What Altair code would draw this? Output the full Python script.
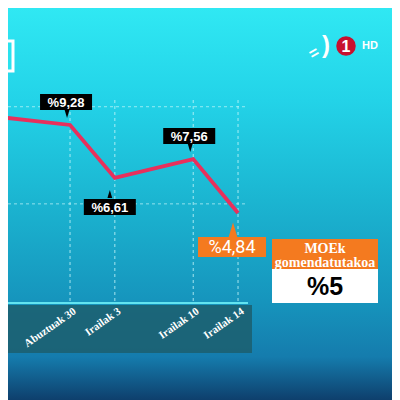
import altair as alt
import pandas as pd

# ---- data ----
days = [22, 30, 34, 41, 45]              # day index (Aug 30 = 30, Sep 3 = 34 ...)
values = [9.79, 9.28, 6.61, 7.56, 4.84]
labels = ["", "%9,28", "%6,61", "%7,56", "%4,84"]
label_pos = ["none", "above", "below", "above", "orange"]

tick_days = [30, 34, 41, 45]
tick_labels = ["Abuztuak 30", "Irailak 3", "Irailak 10", "Irailak 14"]

grid_values = [10.2, 5.3]

moe_title = ["MOEk", "gomendatutakoa"]
moe_value = "%5"

W, H, PB = 384, 295, 97

df = pd.DataFrame({"day": days, "value": values, "label": labels, "pos": label_pos})
ticks_df = pd.DataFrame({"day": tick_days, "label": tick_labels})
grid_df = pd.DataFrame({"g": grid_values})
one = pd.DataFrame({"a": [0]})

label_map = "{" + ",".join(f"'{d}':'{l}'" for d, l in zip(tick_days, tick_labels)) + "}"

xscale = alt.Scale(domain=[24.46, 58.75], nice=False, zero=False)
yscale = alt.Scale(domain=[0.30, 15.18], nice=False, zero=False)

x_enc = alt.X(
    "day:Q",
    scale=xscale,
    axis=alt.Axis(
        values=tick_days,
        labelExpr=f"{label_map}[datum.value + '']",
        title=None,
        domain=False,
        ticks=False,
        tickSize=0,
        grid=False,
        labelAngle=325,
        labelAlign="right",
        labelBaseline="top",
        labelPadding=2,
        labelOffset=1,
        labelColor="white",
        labelFont="Liberation Serif",
        labelFontWeight="bold",
        labelFontSize=11,
        labelOverlap=False,
        labelBound=False,
        labelFlush=False,
        zindex=2,
    ),
)
y_enc = alt.Y("value:Q", scale=yscale, axis=None)

bg = alt.Chart(one).mark_rect(
    color=alt.Gradient(
        gradient="linear",
        stops=[
            alt.GradientStop(offset=0, color="#30e8f3"),
            alt.GradientStop(offset=0.235, color="#23d3e8"),
            alt.GradientStop(offset=0.49, color="#1bb5d1"),
            alt.GradientStop(offset=0.745, color="#1695bd"),
            alt.GradientStop(offset=0.89, color="#157cad"),
            alt.GradientStop(offset=1, color="#0e3f6c"),
        ],
        x1=0, x2=0, y1=0, y2=1,
    )
).encode(x=alt.value(0), x2=alt.value(W), y=alt.value(0), y2=alt.value(H + PB))

topleft_box = alt.Chart(one).mark_rect(
    fill="#2ae2ee", stroke="white", strokeWidth=3
).encode(x=alt.value(-30), x2=alt.value(5), y=alt.value(33), y2=alt.value(63))

band = alt.Chart(one).mark_rect(color="#1d6070", opacity=0.88).encode(
    x=alt.value(0), x2=alt.value(244), y=alt.value(297), y2=alt.value(345)
)

hgrid = alt.Chart(grid_df).mark_rule(
    color="#c8f6fa", opacity=0.7, strokeDash=[3, 3], strokeWidth=1
).encode(y=alt.Y("g:Q", scale=yscale, axis=None), x=alt.value(0), x2=alt.value(237))

vgrid = alt.Chart(ticks_df).mark_rule(
    color="#c8f6fa", opacity=0.8, strokeDash=[3, 3], strokeWidth=1
).encode(x=x_enc, y=alt.value(92), y2=alt.value(H))

baseline = alt.Chart(one).mark_rule(color="#62e4f0", strokeWidth=2).encode(
    x=alt.value(0), x2=alt.value(240), y=alt.value(H)
)

line = alt.Chart(df).mark_line(color="#e8305c", strokeWidth=3.8).encode(x=x_enc, y=y_enc)

down_tri = "M-0.6,-1L0.6,-1L0,1Z"
up_tri = "M0,-1L0.6,1L-0.6,1Z"


def callout(pos, dx, dy, w, h, tri_shape, tri_dx, tri_dy, tri_size, color, font, size, weight):
    base = alt.Chart(df).transform_filter(alt.datum.pos == pos)
    box = base.mark_rect(width=w, height=h, color=color, xOffset=dx, yOffset=dy).encode(x=x_enc, y=y_enc)
    tri = base.mark_point(
        shape=tri_shape, filled=True, size=tri_size, color=color, opacity=1, strokeWidth=0,
        xOffset=tri_dx, yOffset=tri_dy,
    ).encode(x=x_enc, y=y_enc)
    txt = base.mark_text(
        color="white", font=font, fontSize=size, fontWeight=weight, align="center",
        baseline="middle", xOffset=dx, yOffset=dy + 1,
    ).encode(x=x_enc, y=y_enc, text="label:N")
    return [box, tri, txt]


layers_above = callout("above", -4, -23, 52, 16, down_tri, -3, -11, 64, "black", "Liberation Sans", 13, "bold")
layers_below = callout("below", -5, 29, 52, 16, up_tri, -5, 16, 64, "black", "Liberation Sans", 13, "bold")
layers_orange = callout("orange", -6, 34, 68, 20, up_tri, -5, 17, 225, "#f47a1f", "Roboto", 18, "normal")

moe_head = alt.Chart(one).mark_rect(color="#f47a1f").encode(
    x=alt.value(264), x2=alt.value(370), y=alt.value(231), y2=alt.value(261)
)
moe_body = alt.Chart(one).mark_rect(color="white").encode(
    x=alt.value(264), x2=alt.value(370), y=alt.value(261), y2=alt.value(295)
)
moe_t1 = alt.Chart(one).mark_text(
    text=moe_title[0], color="white", font="Liberation Serif", fontWeight="bold", fontSize=14,
    align="center", baseline="middle",
).encode(x=alt.value(317), y=alt.value(241))
moe_t2 = alt.Chart(one).mark_text(
    text=moe_title[1], color="white", font="Liberation Serif", fontWeight="bold", fontSize=14,
    align="center", baseline="middle",
).encode(x=alt.value(317), y=alt.value(255))
moe_v = alt.Chart(one).mark_text(
    text=moe_value, color="black", font="Liberation Sans", fontWeight="bold", fontSize=25,
    align="center", baseline="middle",
).encode(x=alt.value(317), y=alt.value(279))

# channel logo
logo_circle = alt.Chart(one).mark_point(
    shape="circle", filled=True, size=380, color="#c8102e", opacity=1, strokeWidth=0
).encode(x=alt.value(338), y=alt.value(38))
logo_1 = alt.Chart(one).mark_text(
    text="1", color="white", font="Liberation Sans", fontWeight="bold", fontSize=16,
    align="center", baseline="middle",
).encode(x=alt.value(338), y=alt.value(39))
logo_hd = alt.Chart(one).mark_text(
    text="HD", color="white", font="Liberation Sans", fontWeight="bold", fontSize=11,
    align="left", baseline="middle",
).encode(x=alt.value(354), y=alt.value(38))
logo_arc = alt.Chart(one).mark_text(
    text=")", color="white", font="Liberation Sans", fontWeight="bold", fontSize=24,
    align="center", baseline="middle",
).encode(x=alt.value(318), y=alt.value(38))
logo_dash = alt.Chart(one).mark_text(
    text="=", color="white", font="Liberation Sans", fontWeight="bold", fontSize=16,
    align="center", baseline="middle", angle=330,
).encode(x=alt.value(306), y=alt.value(45))

chart = alt.layer(
    bg, topleft_box, band, hgrid, vgrid, baseline, line,
    *layers_above, *layers_below, *layers_orange,
    moe_head, moe_body, moe_t1, moe_t2, moe_v,
    logo_circle, logo_1, logo_hd, logo_arc, logo_dash,
).properties(
    width=W, height=H,
    autosize=alt.AutoSizeParams(type="none"),
    padding={"left": 0, "top": 0, "right": 0, "bottom": PB},
    background="#1590b8",
).configure_view(strokeWidth=0)

chart.save("out.html", embed_options={"renderer": "svg", "actions": False})
